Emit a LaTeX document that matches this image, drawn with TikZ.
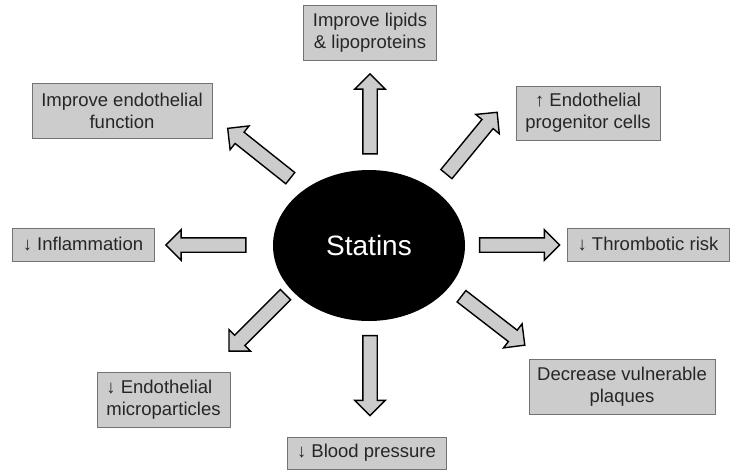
\documentclass[tikz,border=0pt]{standalone}
\usepackage{fontspec}
\setmainfont{Liberation Sans}
\usetikzlibrary{shapes.geometric,shapes.arrows}

\tikzset{
  effect/.style={draw=black!55, fill=black!20, text=black!85, align=center,
    inner sep=2pt, line width=0.8pt, font=\fontsize{18.5}{22}\selectfont},
  push/.style={single arrow, draw=black, fill=black!20, line width=1.4pt,
    minimum height=80pt, single arrow head extend=8pt,
    single arrow head indent=0pt, inner xsep=0pt, inner ysep=6.5pt,
    text height=0pt, text depth=0pt}
}

\begin{document}
\begin{tikzpicture}[x=1pt,y=1pt]
        \useasboundingbox (0,0) rectangle (731,-469);

        % Centre
        \node[ellipse, fill=black, text=white, minimum width=192pt, minimum height=151pt,
              font=\fontsize{28}{30}\selectfont] (statins) at (369,-245.5) {Statins};

        % Effects
        \node[effect, minimum width=133pt, minimum height=55pt] (lipids) at (370,-33) {Improve lipids\\\& lipoproteins};
        \node[effect, minimum width=180pt, minimum height=55pt] (endo) at (122,-111) {Improve endothelial\\function};
        \node[effect, minimum width=144pt, minimum height=54pt] (progen) at (588,-113) {↑ Endothelial\\progenitor cells};
        \node[effect, minimum width=142pt, minimum height=33pt] (inflam) at (83,-244.5) {↓ Inflammation};
        \node[effect, minimum width=162pt, minimum height=33pt] (thromb) at (648,-244.5) {↓ Thrombotic risk};
        \node[effect, minimum width=133pt, minimum height=55pt, align=left] (micro) at (163.5,-399.5) {↓ Endothelial\\microparticles};
        \node[effect, minimum width=159pt, minimum height=32pt] (blood) at (366.5,-453) {↓ Blood pressure};
        \node[effect, minimum width=186pt, minimum height=55pt] (plaques) at (622,-386.5) {Decrease vulnerable\\plaques};

        % Arrows
        \node[push, rotate=90] (toLipids) at (370,-117.5) {};
        \node[push, rotate=141.5] (toEndo) at (261.8,-155.5) {};
        \node[push, rotate=50.6] (toProgen) at (469.5,-146) {};
        \node[push, rotate=180] (toInflam) at (209.5,-245) {};
        \node[push, rotate=0] (toThromb) at (516,-245) {};
        \node[push, rotate=225] (toMicro) at (259.8,-320.3) {};
        \node[push, rotate=-90] (toBlood) at (370,-372) {};
        \node[push, rotate=-37.7] (toPlaques) at (490.3,-318.5) {};
\end{tikzpicture}
\end{document}
